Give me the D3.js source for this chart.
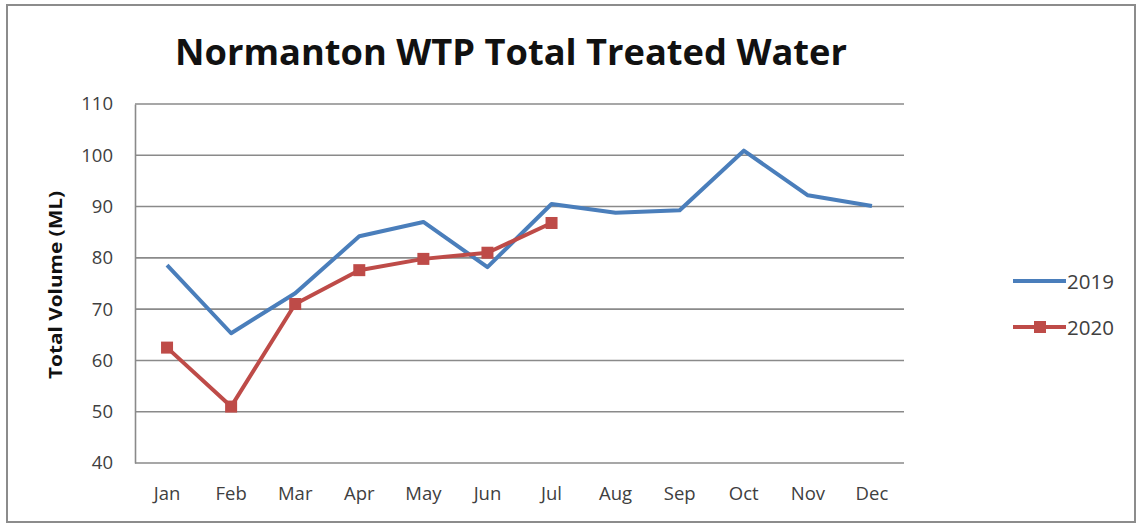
<!DOCTYPE html>
<html>
<head>
<meta charset="utf-8">
<script src="https://cdn.jsdelivr.net/npm/d3@7"></script>
<style>
    body { margin: 0; background: #fff; }
    svg text { font-family: "Open Sans", "Noto Sans", sans-serif; }
</style>
</head>
<body>
<div id="chart"></div>
<script>
// data
const months = ["Jan", "Feb", "Mar", "Apr", "May", "Jun", "Jul", "Aug", "Sep", "Oct", "Nov", "Dec"];
const values2019 = [78.6, 65.3, 73.1, 84.2, 87.0, 78.2, 90.5, 88.8, 89.3, 100.9, 92.2, 90.1];
const values2020 = [62.5, 51.0, 71.0, 77.6, 79.8, 81.0, 86.8];
const yTicks = [40, 50, 60, 70, 80, 90, 100, 110];

const W = 1137, H = 524;
const margin = {top: 104, right: 233, bottom: 61, left: 135};
const width = W - margin.left - margin.right;
const height = H - margin.top - margin.bottom;

const svg = d3.select("#chart").append("svg")
    .attr("width", W)
    .attr("height", H);

// outer frame
svg.append("rect")
    .attr("x", 7).attr("y", 5)
    .attr("width", W - 9).attr("height", H - 7)
    .attr("fill", "#fff")
    .attr("stroke", "#8c8c8c")
    .attr("stroke-width", 2);

// title
svg.append("text")
    .attr("x", 175).attr("y", 65)
    .attr("font-size", 35)
    .attr("font-weight", 700)
    .attr("fill", "#111")
    .attr("textLength", 672)
    .attr("lengthAdjust", "spacingAndGlyphs")
    .text("Normanton WTP Total Treated Water");

const g = svg.append("g")
    .attr("transform", `translate(${margin.left},${margin.top})`);

const x = d3.scaleBand().domain(months).range([0, width]);
const y = d3.scaleLinear().domain([40, 110]).range([height, 0]);

// gridlines
g.selectAll(".grid")
    .data(yTicks)
    .enter()
    .append("line")
    .attr("class", "grid")
    .attr("x1", 0).attr("x2", width)
    .attr("y1", d => y(d)).attr("y2", d => y(d))
    .attr("stroke", "#8a8a8a")
    .attr("stroke-width", 1.6);

// y axis
const yAxis = g.append("g")
    .call(d3.axisLeft(y).tickValues(yTicks).tickSize(0).tickPadding(22));
yAxis.select(".domain").attr("stroke", "#8a8a8a").attr("stroke-width", 1.6);
yAxis.selectAll("text").attr("font-size", 18.5).attr("fill", "#404040");

// x axis
const xAxis = g.append("g")
    .attr("transform", `translate(0,${height})`)
    .call(d3.axisBottom(x).tickSize(0).tickPadding(24));
xAxis.select(".domain").remove();
xAxis.selectAll("text").attr("font-size", 18.5).attr("fill", "#404040");

// y label
svg.append("text")
    .attr("transform", `translate(62,285) rotate(-90)`)
    .attr("text-anchor", "middle")
    .attr("font-size", 18)
    .attr("font-weight", 700)
    .attr("fill", "#111")
    .attr("textLength", 188)
    .attr("lengthAdjust", "spacingAndGlyphs")
    .text("Total Volume (ML)");

const line = d3.line()
    .x((d, i) => x(months[i]) + x.bandwidth() / 2)
    .y(d => y(d));

const blue = "#4a7ebb", red = "#be4b48";

g.append("path")
    .datum(values2019)
    .attr("d", line)
    .attr("fill", "none")
    .attr("stroke", blue)
    .attr("stroke-width", 4)
    .attr("stroke-linejoin", "round");

g.append("path")
    .datum(values2020)
    .attr("d", line)
    .attr("fill", "none")
    .attr("stroke", red)
    .attr("stroke-width", 4)
    .attr("stroke-linejoin", "round");

g.selectAll(".mark2020")
    .data(values2020)
    .enter()
    .append("rect")
    .attr("class", "mark2020")
    .attr("x", (d, i) => x(months[i]) + x.bandwidth() / 2 - 6)
    .attr("y", d => y(d) - 6)
    .attr("width", 12).attr("height", 12)
    .attr("fill", red);

// legend
const legend = svg.append("g");
const series = [{name: "2019", color: blue, marker: false}, {name: "2020", color: red, marker: true}];
series.forEach((s, i) => {
    const ly = 281 + i * 46;
    legend.append("line")
        .attr("x1", 1013).attr("x2", 1066)
        .attr("y1", ly).attr("y2", ly)
        .attr("stroke", s.color)
        .attr("stroke-width", 4);
    if (s.marker) {
        legend.append("rect")
            .attr("x", 1034).attr("y", ly - 6)
            .attr("width", 12).attr("height", 12)
            .attr("fill", s.color);
    }
    legend.append("text")
        .attr("x", 1067).attr("y", ly + 7.5)
        .attr("font-size", 20.5)
        .attr("fill", "#404040")
        .text(s.name);
});
</script>
</body>
</html>
